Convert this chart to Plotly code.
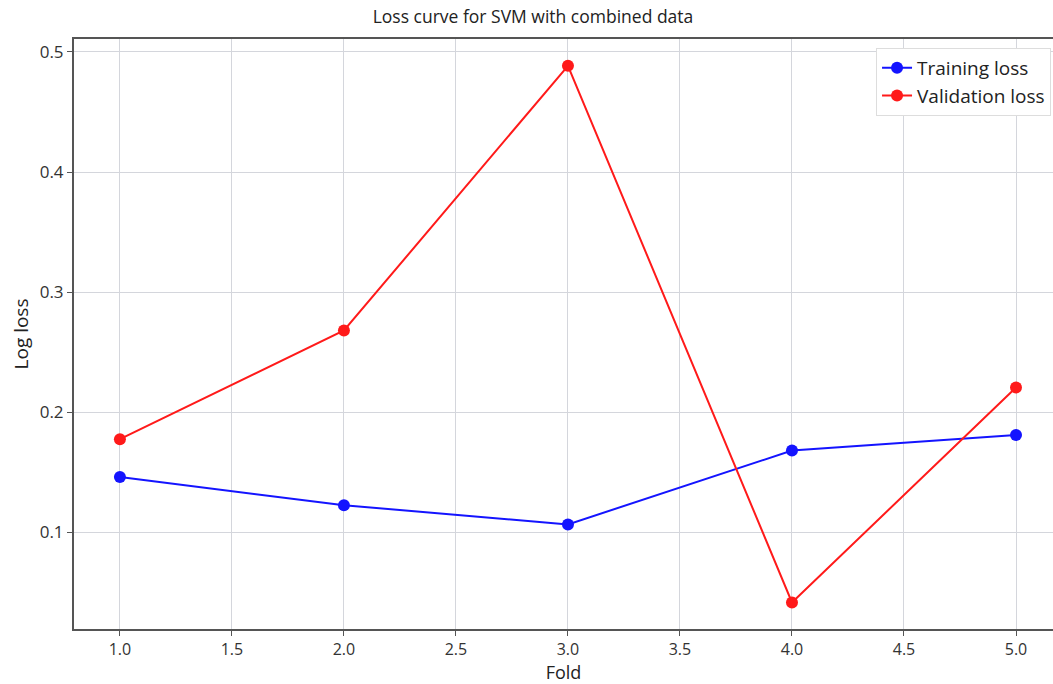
import plotly.graph_objects as go

folds = [1, 2, 3, 4, 5]
training_loss = [0.146, 0.1225, 0.1065, 0.168, 0.181]
validation_loss = [0.1775, 0.268, 0.4885, 0.0415, 0.2205]
x_ticks = [1.0, 1.5, 2.0, 2.5, 3.0, 3.5, 4.0, 4.5, 5.0]
y_ticks = [0.1, 0.2, 0.3, 0.4, 0.5]

FONT = "Open Sans"
fig = go.Figure()
fig.add_trace(go.Scatter(x=folds, y=training_loss, mode="lines+markers", name="Training loss",
                         line=dict(color="#1414ff", width=2), marker=dict(color="#1414ff", size=12)))
fig.add_trace(go.Scatter(x=folds, y=validation_loss, mode="lines+markers", name="Validation loss",
                         line=dict(color="#ff1a1a", width=2), marker=dict(color="#ff1a1a", size=12)))

fig.update_layout(
    width=1053, height=684,
    margin=dict(l=74, r=0, t=39, b=55),
    paper_bgcolor="white", plot_bgcolor="white",
    font=dict(family=FONT, color="#333333", size=17),
    title=dict(text="Loss curve for SVM with combined data", x=533/1053, xanchor="center",
               y=1 - 17/684, yanchor="middle", font=dict(size=17.5, color="#222222")),
    legend=dict(x=0.998, xanchor="right", y=0.985, yanchor="top",
                bgcolor="white", bordercolor="#dddddd", borderwidth=1,
                font=dict(size=19, color="#222222"), itemwidth=30, tracegroupgap=0),
    showlegend=True,
)
fig.update_xaxes(range=[0.795, 1 + (1053 - 120) / 224], tickvals=x_ticks, tickformat=".1f",
                 tickfont=dict(size=16),
                 showgrid=True, gridcolor="#d4d6dc", gridwidth=1.3,
                 showline=True, linecolor="#555555", linewidth=2, mirror=True,
                 ticks="outside", ticklen=5, tickcolor="#555555", zeroline=False,
                 title=dict(text="Fold", font=dict(size=18, color="#222222"), standoff=8))
fig.update_yaxes(range=[0.0194, 0.5108], tickvals=y_ticks, tickformat=".1f",
                 showgrid=True, gridcolor="#d4d6dc", gridwidth=1.3,
                 showline=True, linecolor="#555555", linewidth=2,
                 ticks="outside", ticklen=5, tickcolor="#555555", zeroline=False,
                 title=dict(text="Log loss", font=dict(size=19, color="#222222"), standoff=6))

fig.write_html("out.html", config={"displayModeBar": False},
               post_script="document.body.style.margin='0';")
